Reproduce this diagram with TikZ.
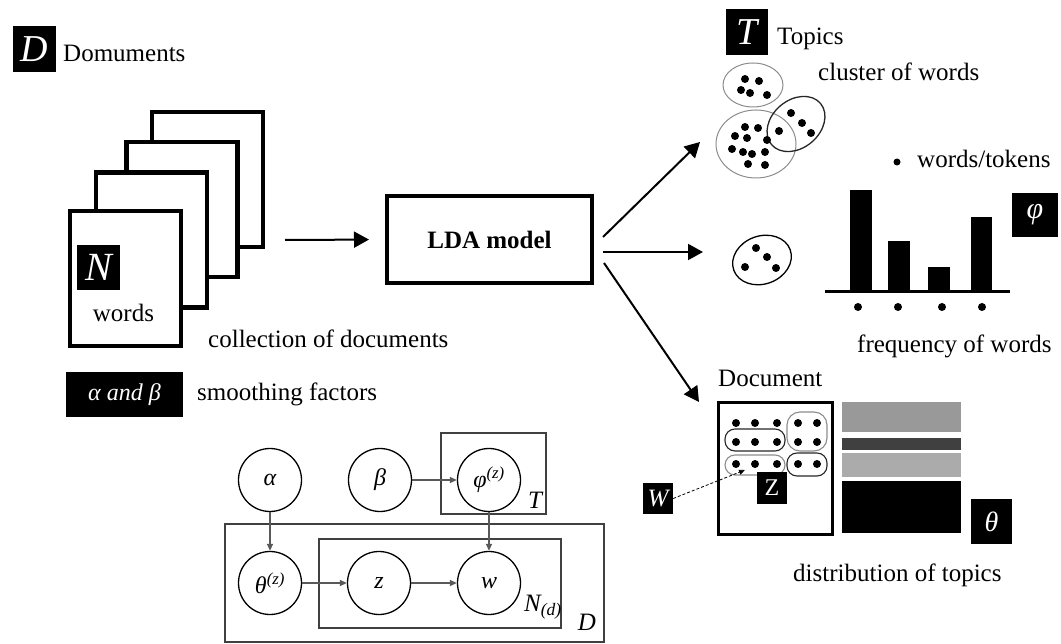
\documentclass[tikz,border=0pt]{standalone}
\usepackage{fontspec}
\setmainfont{Liberation Serif}
\usetikzlibrary{arrows.meta}
\newcommand{\fsz}[1]{\fontsize{#1}{#1}\selectfont}

\begin{document}
\begin{tikzpicture}[x=1pt,y=-1pt,
  lbl/.style={inner sep=0, font=\fsz{25}},
  blkbox/.style={fill=black, text=white, inner sep=0, font=\fsz{#1}\itshape},
  paper/.style={draw, fill=white, line width=4.5pt, minimum width=111pt, minimum height=135pt, inner sep=0},
  bigarr/.style={line width=2pt, -{Triangle[length=15pt,width=16pt]}},
  var/.style={circle, draw, line width=1.3pt, minimum size=63pt, inner sep=0, font=\fsz{24}\itshape},
  plate/.style={draw=black!75, line width=1.6pt},
  garr/.style={draw=black!65, line width=1.3pt, -{Triangle[length=7pt,width=6pt]}},
  pill/.style={line width=1.1pt, rounded corners=10pt},
]
\useasboundingbox (0,0) rectangle (1061,644);

% collection of documents
\node[blkbox=38, minimum width=43pt, minimum height=46pt] (dbox) at (34.5,49) {D};
\node[lbl, anchor=base west] (domtxt) at (63,62) {Domuments};
\node[paper] (doc4) at (207.5,179.5) {};
\node[paper] (doc3) at (182,209.5) {};
\node[paper] (doc2) at (151.5,240) {};
\node[paper] (doc1) at (125.5,278.5) {};
\node[blkbox=40, minimum width=43pt, minimum height=45pt] (nbox) at (98.5,267.5) {N};
\node[lbl, anchor=base] (words) at (123.5,322) {words};
\node[lbl, anchor=base west] (colltxt) at (208,348) {collection of documents};
\node[blkbox=24, minimum width=117pt, minimum height=45pt] (abbox) at (124.5,394.5) {α and β};
\node[lbl, anchor=base west] (smtxt) at (197,401) {smoothing factors};

% model
\node[draw, line width=4pt, minimum width=205pt, minimum height=87pt, font=\fsz{25}\bfseries] (lda) at (489.5,239.5) {LDA model};
\coordinate (in) at (285,240);
\draw[bigarr, shorten >=16pt] (in) -- (lda.west);
\coordinate (o1) at (603,237);
\coordinate (t1) at (700,142);
\coordinate (o2) at (603,252);
\coordinate (t2) at (703,252);
\coordinate (o3) at (604,263);
\coordinate (t3) at (699,402);
\draw[bigarr] (o1) -- (t1);
\draw[bigarr] (o2) -- (t2);
\draw[bigarr] (o3) -- (t3);

% topics
\node[blkbox=38, minimum width=42pt, minimum height=46pt] (tbox) at (747,32) {T};
\node[lbl, anchor=base west] (toptxt) at (777,45) {Topics};
\node[lbl, anchor=base west] (clustxt) at (818,81) {cluster of words};
\draw[black!45, line width=1pt] (753,85) ellipse [x radius=30, y radius=22];
\draw[black!45, line width=1pt] (756,144) ellipse [x radius=40, y radius=34];
\draw[black!85, line width=1.3pt, rotate around={40:(796,124)}] (796,124) ellipse [x radius=32, y radius=24];
\foreach \p in {(745,79),(759,81),(741,90),(750,93),(767,95),
                (745,127),(758,128),(735,136),(747,138),(767,140),(732,149),
                (743,152),(752,154),(765,152),(748,164),(765,165),
                (791,113),(802,123),(811,133),(779,131)}
  \fill \p circle (4);
\fill (897,162) circle (3.5);
\node[lbl, anchor=base west] (tokens) at (917,168) {words/tokens};

% one topic
\draw[line width=1.3pt, rotate around={20:(762,260)}] (762,260) ellipse [x radius=30, y radius=24];
\foreach \p in {(756,248),(767,257),(745,267),(776,268)}
  \fill \p circle (4);
\fill (850,190) rectangle (872,292);
\fill (888,241) rectangle (910,292);
\fill (928,267) rectangle (950,292);
\fill (971,217) rectangle (992,292);
\draw[line width=3pt] (825,292) -- (1010,292);
\foreach \x in {858,898,942,982}
  \fill (\x,307) circle (4);
\node[blkbox=30, minimum width=46pt, minimum height=44pt] (phibox) at (1035,215) {φ};
\node[lbl, anchor=base west] (freqtxt) at (857,353) {frequency of words};

% document
\node[lbl, anchor=base west] (doctxt) at (718,387) {Document};
\node[draw, line width=3pt, minimum width=114pt, minimum height=132pt, inner sep=0] (docbox) at (775.5,468.5) {};
\foreach \y in {423,442,464}
  \foreach \x in {736,755,777,798,817}
    \fill (\x,\y) circle (4);
\draw[pill, black!85] (725,429) rectangle (785,451);
\draw[pill, black!45] (725,455) rectangle (785,475);
\draw[pill, black!45, rounded corners=13pt] (787,412) rectangle (827,451);
\draw[pill, black!85] (787,453) rectangle (827,476);
\node[blkbox=24, font=\fsz{24}, minimum width=30pt, minimum height=32pt] (zbox) at (772,488) {Z};
\node[blkbox=25, minimum width=30pt, minimum height=31pt] (wbox) at (658,498.5) {W};
\coordinate (wtip) at (745,470);
\draw[densely dashed, line width=0.8pt, -{Triangle[length=6pt,width=5pt]}] (wbox.east) -- (wtip);
\fill[black!40] (842,402) rectangle (961,432);
\fill[black!75] (842,438) rectangle (961,450);
\fill[black!33] (842,453) rectangle (961,477);
\fill (842,481) rectangle (961,533);
\node[blkbox=28, minimum width=41pt, minimum height=45pt] (thbox) at (991.5,521.5) {θ};
\node[lbl, anchor=base west] (disttxt) at (793,581) {distribution of topics};

% plate notation
\draw[plate] (441,433) rectangle (546,514);
\draw[plate] (225,524) rectangle (604,642);
\draw[plate] (319,539) rectangle (561,628);
\node[var] (valpha) at (270,480) {α};
\node[var] (vbeta) at (380,480) {β};
\node[var] (vphi) at (489,480) {φ\textsuperscript{(z)}};
\node[var] (vtheta) at (270,583) {θ\textsuperscript{(z)}};
\node[var] (vz) at (379,583) {z};
\node[var] (vw) at (489,583) {w};
\node[lbl, font=\fsz{25}\itshape] (tlbl) at (535,500) {T};
\node[lbl, font=\fsz{25}\itshape] (nlbl) at (543,607) {N\textsubscript{(d)}};
\node[lbl, font=\fsz{25}\itshape] (dlbl) at (587,622) {D};
\draw[garr] (valpha) -- (vtheta);
\draw[garr] (vbeta) -- (vphi);
\draw[garr] (vphi) -- (vw);
\draw[garr] (vtheta) -- (vz);
\draw[garr] (vz) -- (vw);
\end{tikzpicture}
\end{document}
